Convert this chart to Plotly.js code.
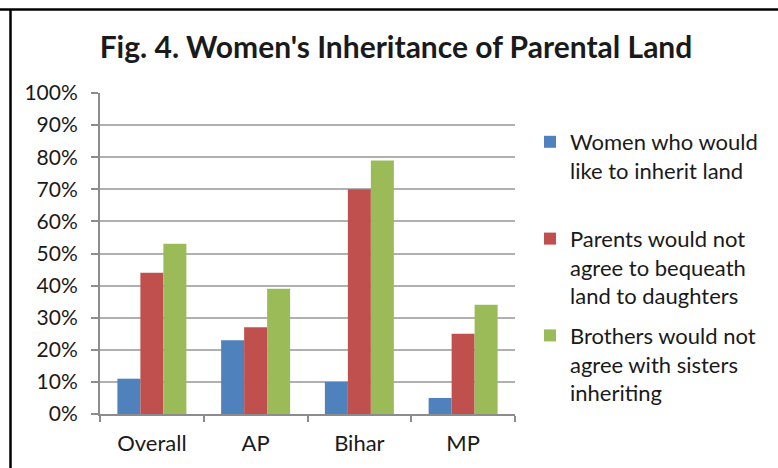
<!DOCTYPE html>
<html>
<head>
<meta charset="utf-8">
<script src="https://cdn.plot.ly/plotly-3.0.1.min.js"></script>
<style>html,body{margin:0;padding:0;background:#fff;}#chart{width:778px;height:468px;}</style>
</head>
<body>
<div id="chart"></div>
<script>
var categories = ["Overall", "AP", "Bihar", "MP"];
var seriesNames = [
  "Women who would<br>like to inherit land<br> ",
  "Parents would not<br>agree to bequeath<br>land to daughters",
  "Brothers would not<br>agree with sisters<br>inheriting"
];
var womenInherit = [0.11, 0.23, 0.10, 0.05];
var parentsNotAgree = [0.44, 0.27, 0.70, 0.25];
var brothersNotAgree = [0.53, 0.39, 0.79, 0.34];
var colors = ["#4F81BD", "#C0504D", "#9BBB59"];

var values = [womenInherit, parentsNotAgree, brothersNotAgree];
var traces = values.map(function (v, i) {
  return {
    type: "bar",
    name: seriesNames[i],
    x: categories,
    y: v,
    marker: {color: colors[i]},
    legendgroup: "g" + i
  };
});

var L = 100, R = 515, T = 93, B = 414, W = 778, H = 468;
function px(x) { return (x - L) / (R - L); }
function py(y) { return (B - y) / (B - T); }

var layout = {
  width: W, height: H,
  margin: {l: L, r: W - R, t: T, b: H - B, pad: 0},
  paper_bgcolor: "#fff", plot_bgcolor: "#fff",
  font: {family: "Lato, 'Open Sans', sans-serif", color: "#1a1a1a", size: 21},
  title: {
    text: "<b>Fig. 4. Women's Inheritance of Parental Land</b>",
    font: {family: "Lato, sans-serif", size: 30, color: "#1a1a1a"},
    xref: "container", yref: "container",
    x: 396 / W, xanchor: "center",
    y: 1 - 47 / H, yanchor: "middle"
  },
  barmode: "group",
  bargap: 0.335,
  bargroupgap: 0,
  showlegend: true,
  legend: {
    x: px(530), xanchor: "left",
    y: py(121), yanchor: "top",
    font: {family: "Lato, sans-serif", size: 22, color: "#1a1a1a"},
    traceorder: "grouped",
    tracegroupgap: 8,
    valign: "top",
    bgcolor: "rgba(0,0,0,0)"
  },
  xaxis: {
    type: "category",
    showline: true, linecolor: "#8c8c8c", linewidth: 2,
    ticks: "outside", tickson: "boundaries", ticklen: 6, tickcolor: "#8c8c8c", tickwidth: 2,
    showgrid: false,
    tickfont: {size: 22, color: "#1a1a1a"},
    ticklabelstandoff: 9,
    fixedrange: true
  },
  yaxis: {
    range: [0, 1],
    dtick: 0.1, tick0: 0,
    tickformat: ".0%",
    showline: true, linecolor: "#8c8c8c", linewidth: 2,
    ticks: "outside", ticklen: 7, tickcolor: "#8c8c8c", tickwidth: 2,
    showgrid: true, gridcolor: "#b0b0b0", gridwidth: 2,
    zeroline: false,
    tickfont: {size: 21, color: "#1a1a1a"},
    ticklabelstandoff: 9,
    fixedrange: true
  },
  shapes: [
    {type: "line", xref: "paper", yref: "paper", x0: px(0), x1: px(778), y0: py(9.5), y1: py(9.5), line: {color: "#000", width: 2.5}},
    {type: "line", xref: "paper", yref: "paper", x0: px(10.5), x1: px(10.5), y0: py(9), y1: py(468), line: {color: "#000", width: 2.5}}
  ]
};

Plotly.newPlot("chart", traces, layout, {displayModeBar: false, staticPlot: true});
</script>
</body>
</html>
